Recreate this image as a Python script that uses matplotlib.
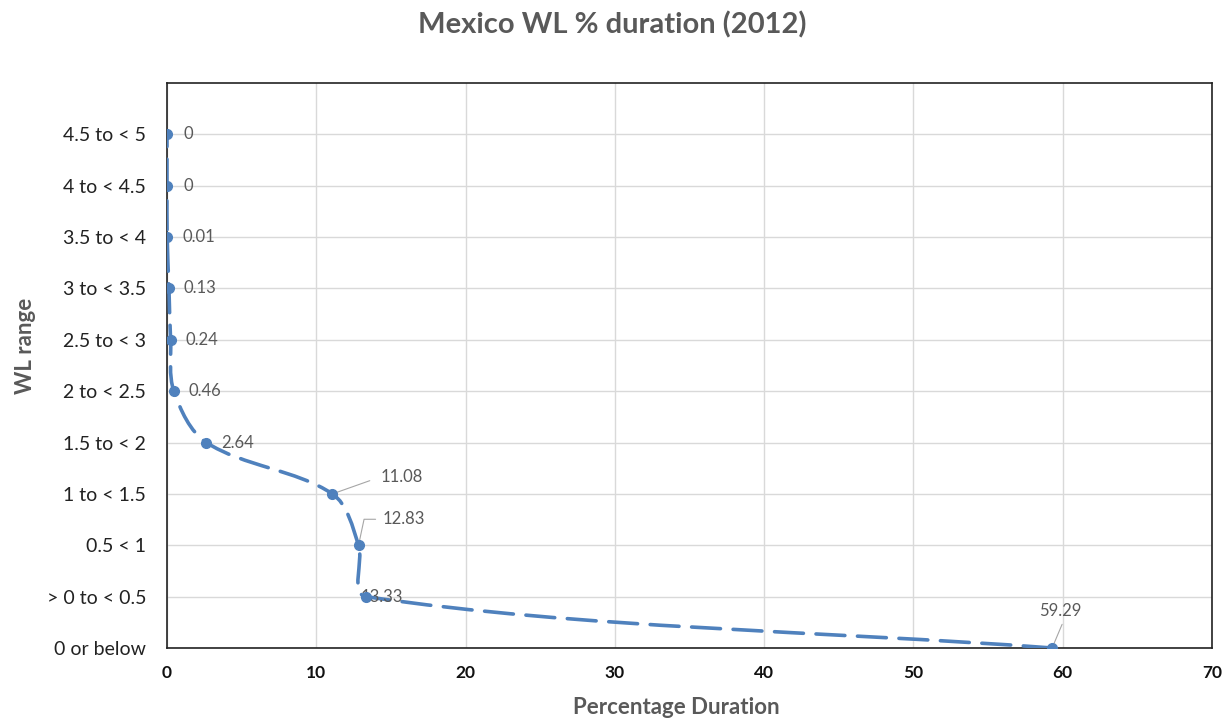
import matplotlib
matplotlib.use("Agg")
import matplotlib.pyplot as plt
import numpy as np
from matplotlib.path import Path
from matplotlib.patches import PathPatch

plt.rcParams['font.family'] = ['Lato', 'DejaVu Sans']

categories = ["0 or below", "> 0 to < 0.5", "0.5 < 1", "1 to < 1.5", "1.5 to < 2",
              "2 to < 2.5", "2.5 to < 3", "3 to < 3.5", "3.5 to < 4", "4 to < 4.5", "4.5 to < 5"]
durations = [59.29, 13.33, 12.83, 11.08, 2.64, 0.46, 0.24, 0.13, 0.01, 0, 0]
labels = ["59.29", "13.33", "12.83", "11.08", "2.64", "0.46", "0.24", "0.13", "0.01", "0", "0"]
x_ticks = [0, 10, 20, 30, 40, 50, 60, 70]

blue = "#4F81BD"
grey = "#595959"

fig = plt.figure(figsize=(12.31, 7.23), dpi=100)
ax = fig.add_axes([167/1231, 75/723, (1212-167)/1231, (648-83)/723])
ax.set_xlim(0, 70)
ax.set_ylim(0, 11)

ypos = np.arange(len(categories))
ax.set_yticks(ypos)
ax.set_yticklabels(categories, fontsize=14, color="#222222")
ax.set_xticks(x_ticks)
ax.set_xticklabels([str(t) for t in x_ticks], fontsize=12.5, fontweight='bold', color="#111111")
ax.tick_params(axis='both', length=0)
ax.tick_params(axis='y', pad=15)
ax.tick_params(axis='x', pad=12)
ax.grid(True, color="#D9D9D9", linewidth=1)
ax.set_axisbelow(True)
for s in ax.spines.values():
    s.set_color("#222222")
    s.set_linewidth(1.2)

# smooth line (Excel-like Bezier smoothing in display space, chord-weighted tangents)
fig.canvas.draw()
pts = ax.transData.transform(np.column_stack([durations, ypos]))
n = len(pts)
verts = [pts[0]]
codes = [Path.MOVETO]

def tangent(i):
    if i == 0:
        return pts[1] - pts[0], 1.0
    if i == n - 1:
        return pts[-1] - pts[-2], 1.0
    return pts[i + 1] - pts[i - 1], None

for i in range(n - 1):
    p1 = pts[i]
    p2 = pts[i + 1]
    d12 = np.linalg.norm(p2 - p1)
    # control at p1
    if i == 0:
        c1 = p1 + (p2 - p1) / 3.0
    else:
        d01 = np.linalg.norm(p1 - pts[i - 1])
        tot = d01 + d12
        c1 = p1 + (p2 - pts[i - 1]) * (d12 / (3.0 * tot) if tot > 0 else 0)
    if i + 2 >= n:
        c2 = p2 - (p2 - p1) / 3.0
    else:
        d23 = np.linalg.norm(pts[i + 2] - p2)
        tot = d12 + d23
        c2 = p2 - (pts[i + 2] - p1) * (d12 / (3.0 * tot) if tot > 0 else 0)
    verts += [c1, c2, p2]
    codes += [Path.CURVE4] * 3
verts = ax.transData.inverted().transform(np.array(verts))
path = Path(verts, codes)
patch = PathPatch(path, facecolor='none', edgecolor=blue, linewidth=2.6,
                  linestyle=(0, (8, 3.5)), capstyle='round', zorder=3)
ax.add_patch(patch)
ax.plot(durations, ypos, 'o', color=blue, markersize=7, zorder=4)

# data labels
lead = dict(arrowstyle='-', color="#A6A6A6", lw=0.8, shrinkA=0, shrinkB=0)
for i, (xv, yv, lab) in enumerate(zip(durations, ypos, labels)):
    if i == 3:
        ax.annotate(lab, (xv, yv), xytext=(48, 17), textcoords='offset pixels',
                    fontsize=12, color=grey, va='center', ha='left',
                    arrowprops=dict(lead, relpos=(0, 0.5), shrinkA=6))
    elif i == 2:
        ax.annotate(lab, (xv, yv), xytext=(24, 26), textcoords='offset pixels',
                    fontsize=12, color=grey, va='center', ha='left',
                    arrowprops=dict(lead, relpos=(0, 0.5), shrinkA=3,
                                    connectionstyle="angle,angleA=0,angleB=78,rad=0"))
    elif i == 0:
        ax.annotate(lab, (xv, yv), xytext=(8, 37), textcoords='offset pixels',
                    fontsize=12, color=grey, va='center', ha='center',
                    arrowprops=dict(lead, relpos=(0.6, 0), shrinkA=2))
    elif i == 1:
        ax.annotate(lab, (xv, yv), xytext=(-5, 0), textcoords='offset pixels',
                    fontsize=12, color=grey, va='center', ha='left')
    elif lab == "0":
        ax.annotate(lab, (xv, yv), xytext=(17, 0), textcoords='offset pixels',
                    fontsize=12, color=grey, va='center', ha='left')
    else:
        ax.annotate(lab, (xv, yv), xytext=(15, 0), textcoords='offset pixels',
                    fontsize=12, color=grey, va='center', ha='left')

ax.set_xlabel("Percentage Duration", fontsize=16, fontweight='bold', color="#595959")
ax.xaxis.set_label_coords((676 - 167) / (1212 - 167), -(708 - 648) / (648 - 83), transform=ax.transAxes)
ax.xaxis.label.set_va('center')
ax.set_ylabel("WL range", fontsize=16, fontweight='bold', color="#595959")
ax.yaxis.set_label_coords(-(167 - 25) / (1212 - 167), (648 - 346) / (648 - 83), transform=ax.transAxes)
ax.yaxis.label.set_va('center')
fig.text(612/1231, 1 - 25/723, "Mexico WL % duration (2012)", fontsize=21, fontweight='bold',
         color="#595959", ha='center', va='center')

fig.savefig("out.png", dpi=100)
